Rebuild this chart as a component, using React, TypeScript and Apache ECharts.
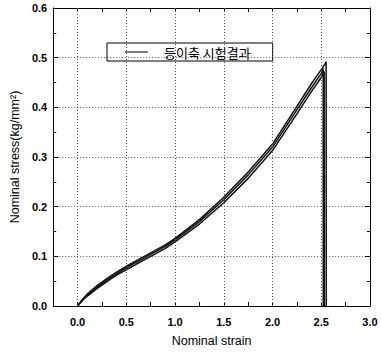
import React, { useEffect, useRef } from "react";
import * as echarts from "echarts";

const SERIES_NAME = "등이축 시험결과";

const strainA = [0, 0.05, 0.1, 0.2, 0.3, 0.4, 0.5, 0.6, 0.75, 0.9, 1.0, 1.25, 1.5, 1.75, 2.0, 2.25, 2.4, 2.5, 2.52, 2.521];
const stressA = [0, 0.012, 0.022, 0.038, 0.052, 0.065, 0.077, 0.088, 0.104, 0.12, 0.133, 0.17, 0.214, 0.264, 0.32, 0.395, 0.44, 0.468, 0.478, 0];

const strainB = [0, 0.05, 0.1, 0.2, 0.3, 0.4, 0.5, 0.6, 0.75, 0.9, 1.0, 1.25, 1.5, 1.75, 2.0, 2.25, 2.4, 2.5, 2.53, 2.531];
const stressB = [0, 0.011, 0.02, 0.035, 0.049, 0.062, 0.073, 0.084, 0.1, 0.116, 0.129, 0.165, 0.208, 0.257, 0.313, 0.387, 0.432, 0.46, 0.472, 0];

const strainC = [0, 0.05, 0.1, 0.2, 0.3, 0.4, 0.5, 0.6, 0.75, 0.9, 1.0, 1.25, 1.5, 1.75, 2.0, 2.25, 2.4, 2.5, 2.54, 2.55, 2.551];
const stressC = [0, 0.013, 0.024, 0.041, 0.055, 0.068, 0.08, 0.091, 0.107, 0.123, 0.136, 0.174, 0.219, 0.27, 0.326, 0.402, 0.448, 0.476, 0.488, 0.492, 0];

const xGridValues = [0, 0.5, 1.0, 1.5, 2.0, 2.5];
const xMin = -0.25;
const xMax = 3.0;
const yMin = 0;
const yMax = 0.6;

const zip = (xs: number[], ys: number[]) => xs.map((x, i) => [x, ys[i]]);

export default function App() {
  const ref = useRef<HTMLDivElement>(null);
  useEffect(() => {
    if (!ref.current) return;
    const chart = echarts.init(ref.current, undefined, { renderer: "svg" });
    const tickFont = { fontFamily: "Liberation Sans", fontSize: 11, fontWeight: "bold" as const, color: "#000" };
    const xLabel = (v: number) => (Math.round(v * 4) % 2 === 0 ? v.toFixed(1) : "");
    const lineSeries = (xs: number[], ys: number[], extra: any = {}) => ({
      type: "line",
      name: SERIES_NAME,
      data: zip(xs, ys),
      showSymbol: false,
      symbol: "none",
      color: "#000",
      lineStyle: { color: "#111", width: 1.5 },
      ...extra,
    });
    chart.setOption({
      animation: false,
      backgroundColor: "#fff",
      grid: { left: 51, right: 11, top: 8, bottom: 44 },
      legend: {
        data: [{ name: SERIES_NAME, icon: "rect" }],
        left: 107,
        top: 43,
        orient: "horizontal",
        borderColor: "#000",
        borderWidth: 1,
        padding: [2, 22, 2, 18],
        itemWidth: 23,
        itemHeight: 1,
        selectedMode: false,
        itemStyle: { color: "#000" },
        textStyle: { fontFamily: "Noto Sans CJK KR", fontSize: 13, lineHeight: 14, color: "#000", padding: [0, 0, 0, 11] },
      },
      xAxis: [
        {
          type: "value",
          min: xMin,
          max: xMax,
          interval: 0.25,
          name: "Nominal strain",
          nameLocation: "middle",
          nameGap: 28,
          nameTextStyle: { fontFamily: "Liberation Sans", fontSize: 12.5, color: "#000" },
          axisLine: { onZero: false, lineStyle: { color: "#000", width: 1 } },
          axisTick: { inside: true, length: 4, lineStyle: { color: "#000" } },
          axisLabel: { ...tickFont, margin: 10, formatter: xLabel, showMinLabel: true, showMaxLabel: true },
          splitLine: { show: false },
        },
        {
          type: "value",
          position: "top",
          min: xMin,
          max: xMax,
          interval: 0.25,
          axisLine: { onZero: false, lineStyle: { color: "#000", width: 1 } },
          axisTick: { inside: true, length: 4, lineStyle: { color: "#000" } },
          axisLabel: { show: false },
          splitLine: { show: false },
        },
      ],
      yAxis: [
        {
          type: "value",
          min: yMin,
          max: yMax,
          interval: 0.1,
          name: "Nominal stress(kg/mm²)",
          nameLocation: "middle",
          nameGap: 30,
          nameRotate: 90,
          nameTextStyle: { fontFamily: "Liberation Sans", fontSize: 12.5, color: "#000" },
          axisLine: { show: true, onZero: false, lineStyle: { color: "#000", width: 1 } },
          axisTick: { show: true, inside: true, length: 5, lineStyle: { color: "#000" } },
          minorTick: { show: true, splitNumber: 2, length: 3, lineStyle: { color: "#000" } },
          axisLabel: { ...tickFont, margin: 6, formatter: (v: number) => v.toFixed(1) },
          splitLine: { show: true, lineStyle: { color: "#555", type: [1, 2], width: 1 } },
        },
        {
          type: "value",
          position: "right",
          min: yMin,
          max: yMax,
          interval: 0.1,
          axisLine: { show: true, onZero: false, lineStyle: { color: "#000", width: 1 } },
          axisTick: { show: true, inside: true, length: 5, lineStyle: { color: "#000" } },
          minorTick: { show: true, splitNumber: 2, length: 3, lineStyle: { color: "#000" } },
          axisLabel: { show: false },
          splitLine: { show: false },
        },
      ],
      series: [
        lineSeries(strainA, stressA, {
          markLine: {
            silent: true,
            symbol: "none",
            label: { show: false },
            lineStyle: { color: "#555", type: [1, 2], width: 1 },
            data: xGridValues.map((v) => ({ xAxis: v })),
          },
        }),
        lineSeries(strainB, stressB),
        lineSeries(strainC, stressC),
      ],
    });
    return () => chart.dispose();
  }, []);
  return <div ref={ref} style={{ width: 381, height: 352, position: "absolute", left: 0, top: 0 }} />;
}
